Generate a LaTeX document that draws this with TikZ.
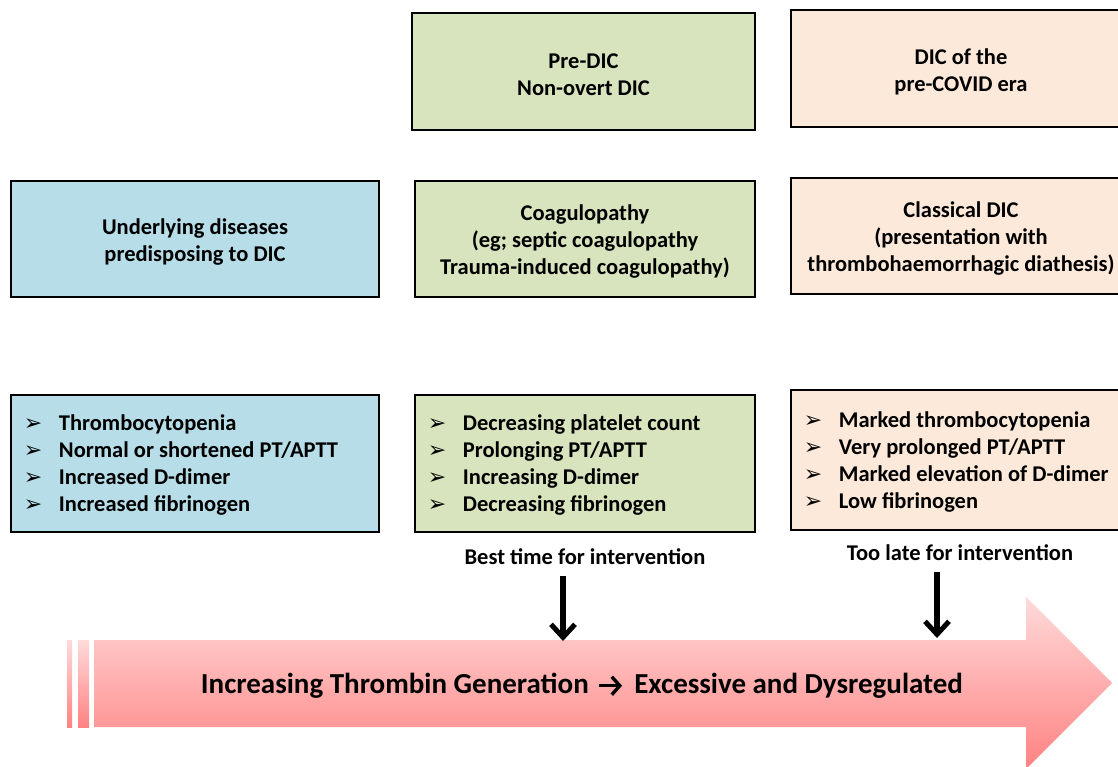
\documentclass[tikz,border=0pt]{standalone}
\usepackage{fontspec}
\setmainfont{Carlito}
\newfontfamily\symfont{DejaVu Sans}
\usetikzlibrary{arrows.meta}
\definecolor{boxblue}{RGB}{183,222,232}
\definecolor{boxgreen}{RGB}{215,228,189}
\definecolor{boxorange}{RGB}{253,233,217}
\definecolor{pinktop}{RGB}{255,218,218}
\definecolor{pinkbot}{RGB}{255,130,130}
\newcommand{\bul}{\makebox[35pt][l]{\symfont\fontsize{22}{27}\selectfont ➢}}
\newcommand{\txtarrow}{\hspace{2pt}\tikz[baseline=-8pt,x=1pt,y=1pt]\draw[line width=3.4pt,-{Straight Barb[length=8pt,width=18pt,line width=3.4pt]}] (0,0) -- (23,0);\hspace{4pt}}
\begin{document}
\begin{tikzpicture}[x=1pt,y=-1pt,
  box/.style={draw=black, line width=2.5pt, inner sep=0pt},
  btxt/.style={inner sep=0pt, align=center, yshift=-3pt,
    font=\bfseries\fontsize{22.5}{27}\selectfont},
  lst/.style={inner sep=0pt, align=left, anchor=west, yshift=-2pt,
    font=\bfseries\fontsize{22.5}{27}\selectfont},
  lbl/.style={inner sep=0pt, font=\bfseries\fontsize{22.5}{27}\selectfont},
  darr/.style={line width=5.5pt, -{Straight Barb[length=13pt,width=24pt,line width=5pt]}},
  big/.style={inner sep=0pt, font=\bfseries\fontsize{29}{34}\selectfont}]
\useasboundingbox (0,0) rectangle (1118,767);
\clip (0,0) rectangle (1118,767);

% top row
\node[box, fill=boxgreen, minimum width=343pt, minimum height=117pt] (predic) at (583.5,71.5) {};
\node[btxt] (predict) at (predic.center) {Pre-DIC\\Non-overt DIC};
\node[box, fill=boxorange, minimum width=340pt, minimum height=117pt] (precovid) at (961,68.5) {};
\node[btxt] (precovidt) at (precovid.center) {DIC of the\\pre-COVID era};

% middle row
\node[box, fill=boxblue, minimum width=368pt, minimum height=116pt] (underlying) at (195,239) {};
\node[btxt] (underlyingt) at (underlying.center) {Underlying diseases\\predisposing to DIC};
\node[box, fill=boxgreen, minimum width=340pt, minimum height=116pt] (coag) at (585,239) {};
\node[btxt] (coagt) at (coag.center) {Coagulopathy\\(eg; septic coagulopathy\\Trauma-induced coagulopathy)};
\node[box, fill=boxorange, minimum width=340pt, minimum height=116pt] (classical) at (961,236) {};
\node[btxt] (classicalt) at (classical.center) {Classical DIC\\(presentation with\\thrombohaemorrhagic diathesis)};

% bottom row
\node[box, fill=boxblue, minimum width=368pt, minimum height=137pt] (labA) at (195,463.5) {};
\node[lst] (listA) at ([xshift=14pt]labA.west) {\bul Thrombocytopenia\\\bul Normal or shortened PT/APTT\\\bul Increased D-dimer\\\bul Increased fibrinogen};
\node[box, fill=boxgreen, minimum width=340pt, minimum height=137pt] (labB) at (585,463.5) {};
\node[lst] (listB) at ([xshift=14pt]labB.west) {\bul Decreasing platelet count\\\bul Prolonging PT/APTT\\\bul Increasing D-dimer\\\bul Decreasing fibrinogen};
\node[box, fill=boxorange, minimum width=340pt, minimum height=140pt] (labC) at (961,460) {};
\node[lst] (listC) at ([xshift=14pt]labC.west) {\bul Marked thrombocytopenia\\\bul Very prolonged PT/APTT\\\bul Marked elevation of D-dimer\\\bul Low fibrinogen};

% labels
\node[lbl] (best) at (585,557) {Best time for intervention};
\node[lbl] (late) at (960,553) {Too late for intervention};

% big arrow
\shade[top color=pinktop, bottom color=pinkbot] (67,640) rectangle (72,727);
\shade[top color=pinktop, bottom color=pinkbot] (78,640) rectangle (89,727);
\shade[top color=pinktop, bottom color=pinkbot]
  (94,640) -- (1026,640) -- (1026,597) -- (1112,683) -- (1026,769) -- (1026,727) -- (94,727) -- cycle;
\node[big] (bigtext) at (582,686) {Increasing Thrombin Generation \txtarrow\ Excessive and Dysregulated};
\coordinate (tip1) at (563,641);
\coordinate (tip2) at (937,638);

% down arrows
\draw[darr] ([xshift=-22pt,yshift=-11pt]best.south) -- (tip1);
\draw[darr] ([xshift=-23pt,yshift=-11pt]late.south) -- (tip2);
\end{tikzpicture}
\end{document}
